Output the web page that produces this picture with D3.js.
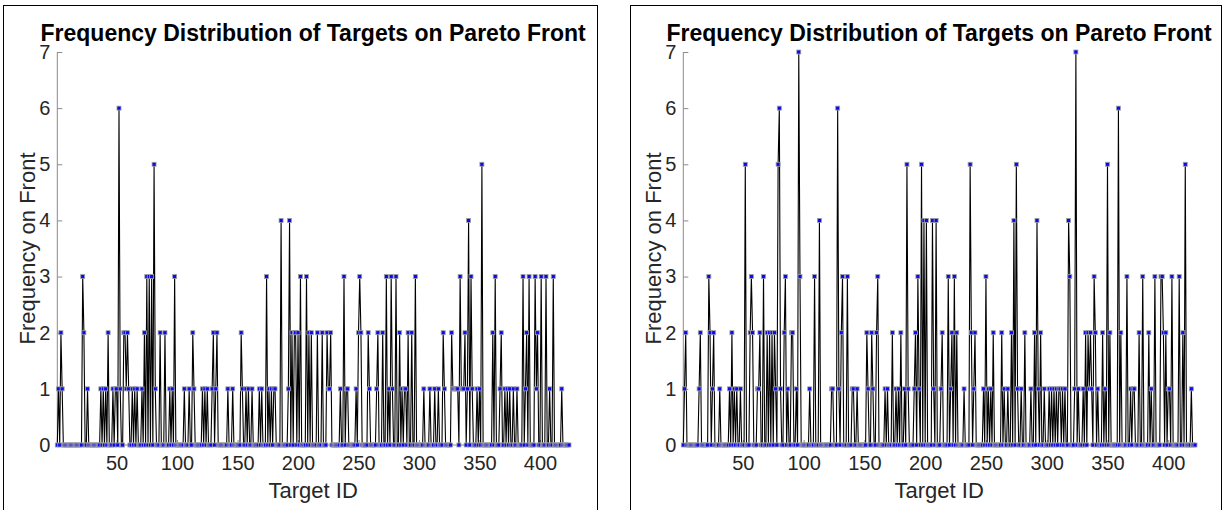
<!DOCTYPE html>
<html>
<head>
<meta charset="utf-8">
<script src="https://cdn.jsdelivr.net/npm/d3@7"></script>
<style>
  html, body { margin: 0; padding: 0; background: #fff; }
  svg { display: block; font-family: "Liberation Sans", Arial, Helvetica, sans-serif; }
</style>
</head>
<body>
<svg id="chart" width="1225" height="510"></svg>
<script>
// Titles and axis text
const chartTitle = "Frequency Distribution of Targets on Pareto Front";
const xLabel = "Target ID";
const yLabel = "Frequency on Front";
const xTicks = [50, 100, 150, 200, 250, 300, 350, 400];
const yTicks = [0, 1, 2, 3, 4, 5, 6, 7];

// Number of targets in each run
const targetCountA = 424;
const targetCountB = 422;

// [target id, times on the front] – targets not listed never appear (0)
const frontHitsA = [
  [2,1],[4,2],[5,1],[22,3],[23,2],[26,1],[37,1],[39,1],[41,1],[43,2],
  [47,1],[49,1],[50,1],[52,6],[53,1],[56,2],[57,2],[58,1],[59,2],[60,1],
  [63,1],[65,1],[67,1],[71,1],[73,2],[75,3],[77,3],[79,3],[81,5],[82,1],
  [86,2],[90,2],[94,1],[96,1],[98,3],[106,1],[110,1],[113,2],[114,1],
  [121,1],[123,1],[125,1],[129,1],[130,2],[132,1],[133,2],[142,1],[146,1],
  [153,2],[154,1],[157,1],[159,1],[162,1],[168,1],[170,1],[174,3],[176,1],
  [178,1],[180,1],[181,1],[186,4],[192,1],[193,4],[195,2],[197,2],[198,2],
  [200,2],[202,3],[207,3],[209,2],[211,2],[216,2],[220,2],[224,2],[225,1],
  [226,1],[227,2],[235,1],[238,3],[240,1],[241,1],[248,1],[250,2],[251,3],
  [252,2],[258,2],[259,1],[265,1],[266,2],[270,2],[273,3],[275,1],[277,3],
  [278,1],[281,3],[284,2],[286,1],[288,1],[289,1],[291,2],[294,2],[297,3],
  [304,1],[309,1],[313,1],[316,1],[320,2],[321,1],[327,2],[328,1],[329,1],
  [330,1],[331,1],[332,1],[334,3],[335,1],[336,1],[337,1],[338,2],[340,1],
  [341,4],[343,3],[344,1],[348,1],[350,1],[352,5],[361,2],[363,3],[367,1],
  [368,2],[371,1],[373,1],[375,1],[378,1],[381,1],[386,3],[388,1],[389,2],
  [391,3],[396,3],[397,1],[398,2],[401,3],[405,3],[408,1],[411,3],[418,1]
];

const frontHitsB = [
  [2,1],[3,2],[14,1],[15,2],[22,3],[23,2],[25,1],[26,2],[31,1],[39,1],
  [41,2],[43,1],[45,1],[48,1],[52,5],[56,2],[57,3],[58,2],[62,1],[63,1],
  [64,2],[67,3],[70,2],[72,2],[74,2],[76,2],[77,1],[79,5],[80,6],[81,1],
  [84,2],[85,3],[87,1],[90,2],[91,2],[94,1],[96,7],[97,3],[105,1],[109,3],
  [113,4],[123,1],[124,1],[128,6],[129,1],[131,2],[132,3],[136,3],[140,1],
  [141,1],[144,1],[152,2],[153,1],[156,2],[157,1],[160,2],[161,3],[167,1],
  [169,1],[173,2],[176,1],[178,1],[180,2],[183,1],[185,5],[186,1],[191,1],
  [192,2],[194,3],[195,1],[197,5],[199,4],[201,4],[206,4],[207,1],[209,4],
  [213,1],[214,2],[219,3],[221,1],[222,2],[224,3],[226,2],[232,1],[237,5],
  [238,2],[240,1],[241,2],[248,1],[250,3],[252,1],[254,1],[256,2],[263,2],
  [265,1],[268,1],[271,2],[273,4],[275,5],[276,1],[279,1],[282,2],[287,1],
  [290,2],[292,4],[293,1],[295,2],[298,1],[302,1],[304,1],[306,1],[308,1],
  [310,1],[311,1],[313,1],[315,1],[318,4],[319,3],[323,1],[324,7],[326,1],
  [330,1],[332,2],[334,2],[335,1],[336,2],[337,1],[339,3],[340,2],[342,1],
  [346,2],[348,1],[350,5],[352,2],[359,6],[361,2],[366,3],[369,1],[371,1],
  [372,1],[376,2],[379,3],[384,2],[386,1],[389,3],[394,3],[395,3],[396,2],
  [398,2],[400,1],[401,1],[403,3],[409,3],[412,2],[414,5],[419,1]
];

// Expand the hit list into one record per target id
function toSeries(count, hits) {
  const lookup = new Map(hits);
  return d3.range(1, count + 1).map(id => ({ id, freq: lookup.get(id) || 0 }));
}

const svg = d3.select("#chart");
const textColor = "#262626";
const axisColor = "#8a8a8a";
const fontFamily = "Liberation Sans, Arial, sans-serif";

function drawPanel(frame, plot, count, hits) {
  // figure frame
  svg.append("rect")
    .attr("x", frame.x + 0.5).attr("y", frame.y + 0.5)
    .attr("width", frame.w).attr("height", frame.h)
    .attr("fill", "none").attr("stroke", "#000").attr("stroke-width", 1);

  const series = toSeries(count, hits);
  const x = d3.scaleLinear().domain([1, count]).range([plot.left, plot.right]);
  const y = d3.scaleLinear().domain([0, 7]).range([plot.bottom, plot.top]);
  const g = svg.append("g");

  // y axis: line, inward ticks, labels
  const yAxis = d3.axisLeft(y).tickValues(yTicks).tickSize(-5).tickPadding(7).tickFormat(d3.format("d"));
  const ya = g.append("g").attr("transform", `translate(${plot.left},0)`).call(yAxis);
  ya.select(".domain").attr("stroke", axisColor).attr("d", `M0,${plot.bottom}V${plot.top}`);
  ya.selectAll(".tick line").attr("stroke", axisColor);
  ya.selectAll(".tick text").attr("fill", textColor).style("font-size", "20px")
    .style("font-family", fontFamily);

  // x axis
  const xAxis = d3.axisBottom(x).tickValues(xTicks).tickSize(-5).tickPadding(11);
  const xa = g.append("g").attr("transform", `translate(0,${plot.bottom})`).call(xAxis);
  xa.select(".domain").attr("stroke", axisColor).attr("d", `M${plot.left},0H${plot.right}`);
  xa.selectAll(".tick line").attr("stroke", axisColor);
  xa.selectAll(".tick text").attr("fill", textColor).style("font-size", "20px")
    .style("font-family", fontFamily);

  // connected frequency line
  const line = d3.line().x(d => x(d.id)).y(d => y(d.freq));
  g.append("path").datum(series)
    .attr("d", line)
    .attr("fill", "none")
    .attr("stroke", "#000")
    .attr("stroke-width", 1.1)
    .attr("stroke-linejoin", "miter");

  // square markers
  const m = 4;
  g.append("g").selectAll("rect").data(series).join("rect")
    .attr("x", d => x(d.id) - m / 2)
    .attr("y", d => y(d.freq) - m / 2)
    .attr("width", m).attr("height", m)
    .attr("fill", "#0a0af0")
    .attr("stroke", "#a0a0a0")
    .attr("stroke-width", 0.8);

  // title and axis labels
  const cx = (plot.left + plot.right) / 2;
  svg.append("text")
    .attr("x", cx).attr("y", 41)
    .attr("text-anchor", "middle")
    .style("font-size", "23px").style("font-weight", "bold")
    .attr("fill", "#000")
    .text(chartTitle);

  svg.append("text")
    .attr("x", cx).attr("y", 498)
    .attr("text-anchor", "middle")
    .style("font-size", "22px")
    .attr("fill", textColor)
    .text(xLabel);

  svg.append("text")
    .attr("transform", `translate(${plot.left - 22},${(plot.top + plot.bottom) / 2}) rotate(-90)`)
    .attr("text-anchor", "middle")
    .style("font-size", "22px")
    .attr("fill", textColor)
    .text(yLabel);
}

drawPanel({ x: 3, y: 5, w: 594, h: 520 },
          { left: 57.3, right: 569, top: 52, bottom: 445 },
          targetCountA, frontHitsA);
drawPanel({ x: 630, y: 5, w: 591, h: 520 },
          { left: 683.3, right: 1195, top: 52, bottom: 445 },
          targetCountB, frontHitsB);
</script>
</body>
</html>
